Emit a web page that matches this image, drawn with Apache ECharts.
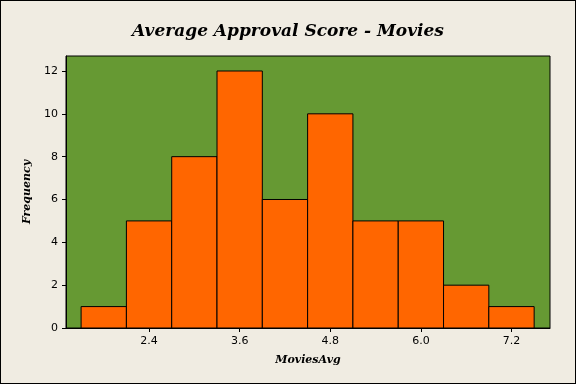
<!DOCTYPE html>
<html><head><meta charset="utf-8">
<script src="https://cdn.jsdelivr.net/npm/echarts@6/dist/echarts.min.js"></script>
<style>
html,body{margin:0;padding:0;background:#f0ece2;}
#c{width:576px;height:384px;box-sizing:border-box;border:1px solid #000;}
</style></head><body>
<div id="c"></div>
<script>
const binCenters = [1.8, 2.4, 3.0, 3.6, 4.2, 4.8, 5.4, 6.0, 6.6, 7.2];
const frequencies = [1, 5, 8, 12, 6, 10, 5, 5, 2, 1];
const binWidth = 0.6;
const xTickValues = [2.4, 3.6, 4.8, 6.0, 7.2];
const yTickValues = [0, 2, 4, 6, 8, 10, 12];

const chart = echarts.init(document.getElementById('c'), null, {renderer: 'canvas'});
const data = binCenters.map((c, i) => [c, frequencies[i]]);
chart.setOption({
  backgroundColor: '#f0ece2',
  animation: false,
  title: {
    text: 'Average Approval Score - Movies',
    left: 'center', top: 17,
    textStyle: {fontFamily: 'DejaVu Serif', fontStyle: 'italic', fontWeight: 'bold', fontSize: 17, color: '#000'}
  },
  grid: {left: 65, top: 55, width: 484, height: 272, show: true, backgroundColor: '#669933', borderColor: '#000', borderWidth: 1},
  xAxis: {
    type: 'value', min: 1.3, max: 7.71,
    name: 'MoviesAvg', nameLocation: 'middle', nameGap: 27,
    nameTextStyle: {fontFamily: 'DejaVu Serif', fontStyle: 'italic', fontWeight: 'bold', fontSize: 11, color: '#000'},
    axisLine: {show: true, lineStyle: {color: '#000', width: 1}},
    axisTick: {show: true, length: 4, lineStyle: {color: '#000'}, customValues: xTickValues},
    axisLabel: {fontFamily: 'DejaVu Sans', fontSize: 11, color: '#000', margin: 8, customValues: xTickValues, formatter: v => v.toFixed(1)},
    splitLine: {show: false}
  },
  yAxis: {
    type: 'value', min: 0, max: 12.7,
    name: 'Frequency', nameLocation: 'middle', nameGap: 32, nameRotate: 90,
    nameTextStyle: {fontFamily: 'DejaVu Serif', fontStyle: 'italic', fontWeight: 'bold', fontSize: 11, color: '#000'},
    axisLine: {show: true, lineStyle: {color: '#000', width: 1}},
    axisTick: {show: true, length: 4, lineStyle: {color: '#000'}, customValues: yTickValues},
    axisLabel: {fontFamily: 'DejaVu Sans', fontSize: 11, color: '#000', margin: 8, customValues: yTickValues},
    splitLine: {show: false}
  },
  series: [{
    type: 'custom',
    data: data,
    renderItem: function (params, api) {
      const c = api.value(0), f = api.value(1);
      const p0 = api.coord([c - binWidth / 2, f]);
      const p1 = api.coord([c + binWidth / 2, 0]);
      return {
        type: 'rect',
        shape: {x: p0[0], y: p0[1], width: p1[0] - p0[0], height: p1[1] - p0[1]},
        style: {fill: '#ff6600', stroke: '#000', lineWidth: 1}
      };
    }
  }]
});
</script>
</body></html>
